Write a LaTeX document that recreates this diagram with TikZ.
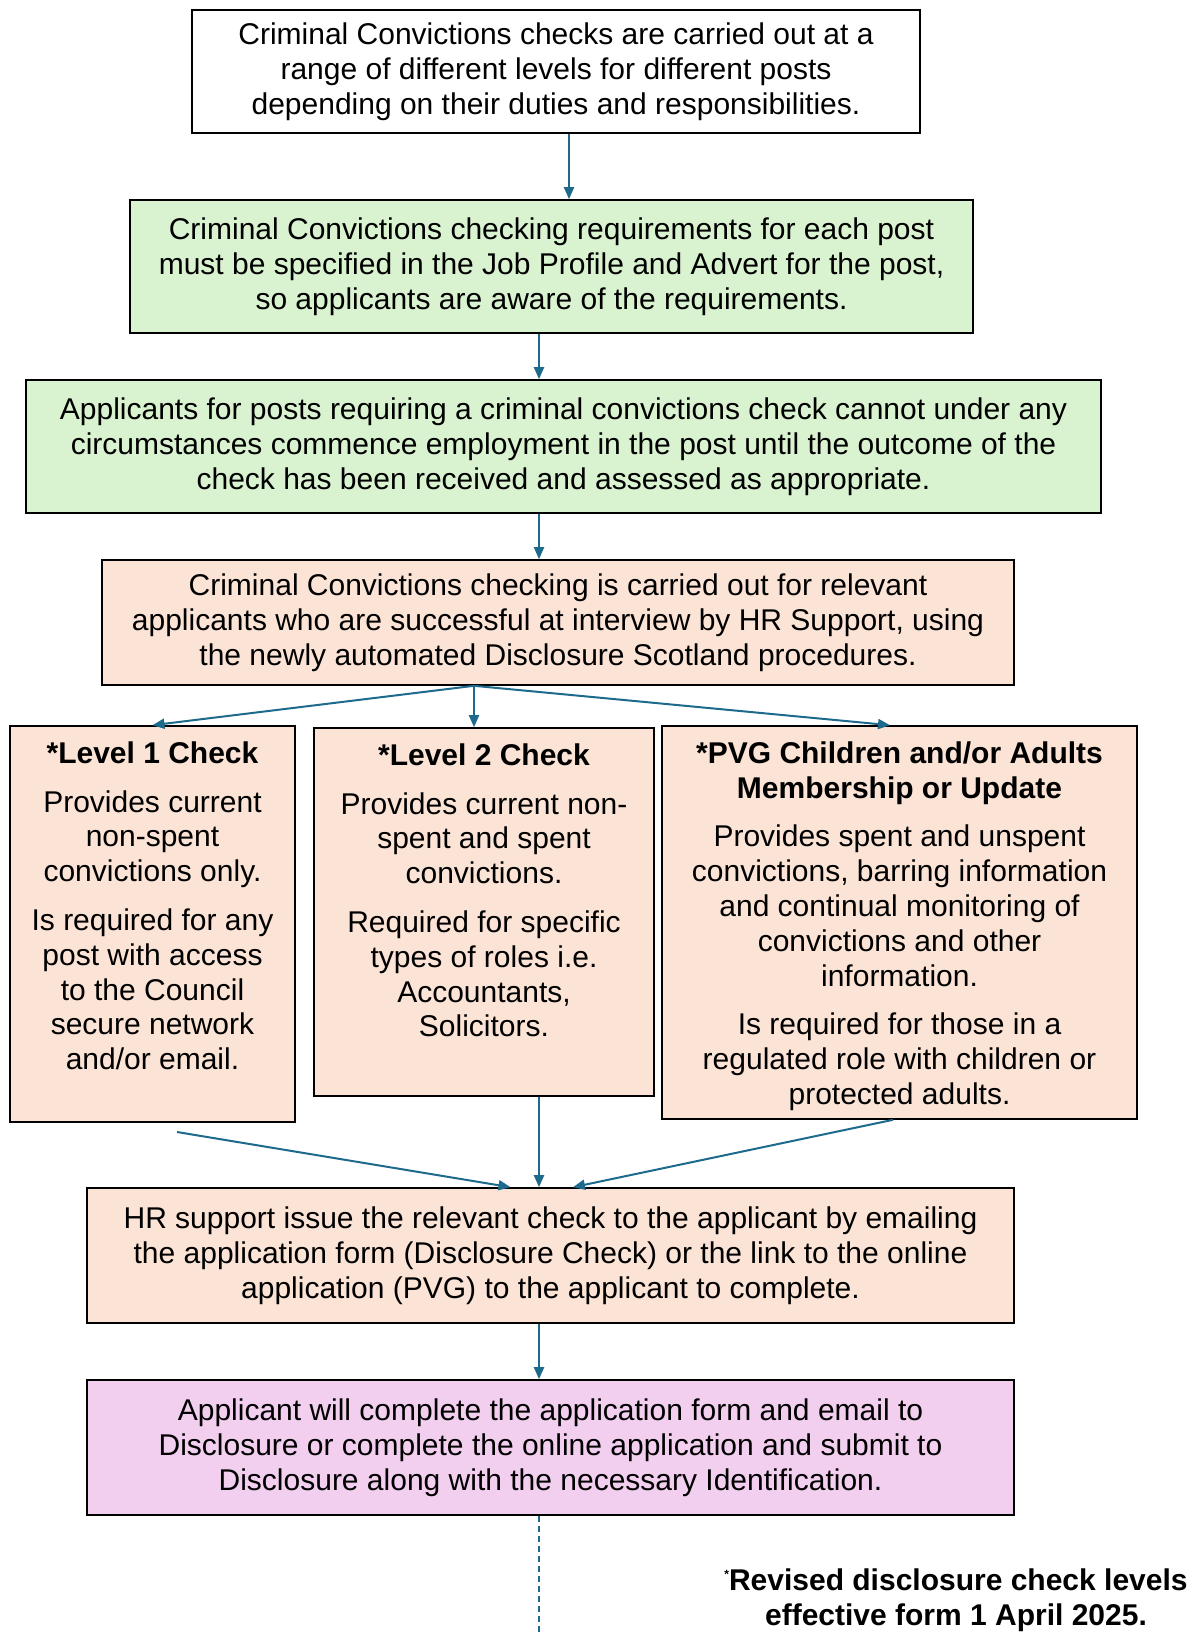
\documentclass[tikz,border=0pt]{standalone}
\usepackage{fontspec}
\setmainfont{Liberation Sans}
\usetikzlibrary{arrows.meta}
\definecolor{arrowblue}{HTML}{1D6A8C}
\definecolor{boxgreen}{HTML}{D9F2D0}
\definecolor{boxpeach}{HTML}{FBE3D6}
\definecolor{boxpink}{HTML}{F2CEEF}
\tikzset{
	box/.style={draw=black, line width=0.8pt, align=center, inner sep=0pt, font=\fontsize{15}{17.4}\selectfont},
	txt/.style={align=center, inner sep=0pt, font=\fontsize{15}{17.4}\selectfont},
	flow/.style={draw=arrowblue, line width=1pt, -{Triangle[length=6pt,width=5pt]}}
}
\begin{document}
\begin{tikzpicture}[x=0.5pt,y=-0.5pt]
			%%%%% START %%%%%
			\useasboundingbox (0,0) rectangle (1192,1632);
			
			\node[box, fill=white, minimum width=364pt, minimum height=61.5pt] (ranges) at (556,71.5) {Criminal Convictions checks are carried out at a\\range of different levels for different posts\\depending on their duties and responsibilities.};
			\node[box, fill=boxgreen, minimum width=421.5pt, minimum height=66.5pt] (specify) at (551.5,266.5) {Criminal Convictions checking requirements for each post\\must be specified in the Job Profile and Advert for the post,\\so applicants are aware of the requirements.};
			\node[box, fill=boxgreen, minimum width=537.5pt, minimum height=66.5pt] (nostart) at (563.5,446.5) {Applicants for posts requiring a criminal convictions check cannot under any\\circumstances commence employment in the post until the outcome of the\\check has been received and assessed as appropriate.};
			\node[box, fill=boxpeach, minimum width=456pt, minimum height=62.5pt] (carried) at (558,622.5) {Criminal Convictions checking is carried out for relevant\\applicants who are successful at interview by HR Support, using\\the newly automated Disclosure Scotland procedures.};
			
			% the three check levels
			\node[box, fill=boxpeach, minimum width=142.5pt, minimum height=198pt] (lvl1) at (152.5,924) {};
			\node[txt, anchor=north] (lvl1txt) at ([yshift=-8pt]lvl1.north) {\textbf{*Level 1 Check}\\[7pt]Provides current\\non-spent\\convictions only.\\[7pt]Is required for any\\post with access\\to the Council\\secure network\\and/or email.};
			\node[box, fill=boxpeach, minimum width=170pt, minimum height=184pt] (lvl2) at (484,912) {};
			\node[txt, anchor=north] (lvl2txt) at ([yshift=-8pt]lvl2.north) {\textbf{*Level 2 Check}\\[7pt]Provides current non-\\spent and spent\\convictions.\\[7pt]Required for specific\\types of roles i.e.\\Accountants,\\Solicitors.};
			\node[box, fill=boxpeach, minimum width=237.5pt, minimum height=196.5pt] (pvg) at (899.5,922.5) {};
			\node[txt, anchor=north] (pvgtxt) at ([yshift=-8pt]pvg.north) {\textbf{*PVG Children and/or Adults}\\\textbf{Membership or Update}\\[7pt]Provides spent and unspent\\convictions, barring information\\and continual monitoring of\\convictions and other\\information.\\[7pt]Is required for those in a\\regulated role with children or\\protected adults.};
			
			\node[box, fill=boxpeach, minimum width=463.5pt, minimum height=67.5pt] (issue) at (550.5,1255.5) {HR support issue the relevant check to the applicant by emailing\\the application form (Disclosure Check) or the link to the online\\application (PVG) to the applicant to complete.};
			\node[box, fill=boxpink, minimum width=463.5pt, minimum height=67.5pt] (apply) at (550.5,1447.5) {Applicant will complete the application form and email to\\Disclosure or complete the online application and submit to\\Disclosure along with the necessary Identification.};
			
			\node[txt, font=\fontsize{15}{17.4}\selectfont\bfseries] (footnote) at (956,1600) {{\fontsize{6}{6}\selectfont\raisebox{6pt}{*}}Revised disclosure check levels\\effective form 1 April 2025.};
			
			% connectors
			\draw[flow] ([xshift=6.5pt]ranges.south) -- ([xshift=6.5pt]ranges.south |- specify.north);
			\draw[flow] ([xshift=-6.25pt]specify.south) -- ([xshift=-6.25pt]specify.south |- nostart.north);
			\draw[flow] ([xshift=-12.25pt]nostart.south) -- ([xshift=-12.25pt]nostart.south |- carried.north);
			
			\draw[flow] ([xshift=-42pt]carried.south) -- (lvl1.north);
			\draw[flow] ([xshift=-42pt]carried.south) -- ([xshift=-5pt]lvl2.north);
			\draw[flow] ([xshift=-42pt]carried.south) -- ([xshift=-4.75pt]pvg.north);
			
			\coordinate (lvl1foot) at (177,1132);
			\draw[flow] (lvl1foot) -- ([xshift=-20pt]issue.north);
			\draw[flow] ([xshift=27.5pt]lvl2.south) -- ([xshift=27.5pt]lvl2.south |- issue.north);
			\draw[flow] ([xshift=-3.25pt]pvg.south) -- ([xshift=11.25pt]issue.north);
			
			\draw[flow] ([xshift=-5.75pt]issue.south) -- ([xshift=-5.75pt]issue.south |- apply.north);
			
			\coordinate (dashend) at (539,1632);
			\draw[draw=arrowblue, line width=1pt, dash pattern=on 3pt off 2pt] ([xshift=-5.75pt]apply.south) -- (dashend);
			%%%%% END %%%%%
\end{tikzpicture}
\end{document}
